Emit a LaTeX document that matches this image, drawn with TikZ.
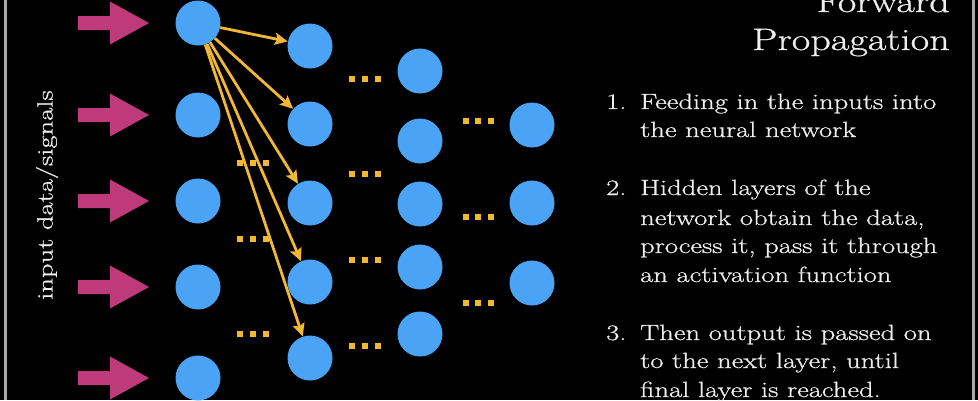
\documentclass[tikz,border=0pt]{standalone}
\usepackage{fontspec}
\setmainfont{Latin Modern Roman}[FakeStretch=1.3,FakeBold=0.8]
\usetikzlibrary{arrows.meta}
\definecolor{nblue}{RGB}{74,163,245}
\definecolor{npink}{RGB}{190,58,122}
\definecolor{nyellow}{RGB}{242,184,52}
\definecolor{ntext}{RGB}{238,238,238}
\definecolor{nframe}{RGB}{170,170,170}
\begin{document}
\begin{tikzpicture}[x=1pt,y=-1pt,
  neuron/.style={circle,fill=nblue,minimum size=45pt,inner sep=0pt},
  sigarrow/.style={fill=npink},
  flow/.style={draw=nyellow,line width=2.8pt,-{Stealth[length=13pt,width=12pt,inset=2.5pt]}},
  dotsq/.style={fill=nyellow},
  listtext/.style={text=ntext,anchor=base west,inner sep=0pt,font=\fontsize{22}{24}\selectfont},
  titletext/.style={text=ntext,anchor=base east,inner sep=0pt,font=\fontsize{31}{34}\selectfont}]
\fill[black] (0,0) rectangle (978,400);
\useasboundingbox (0,0) rectangle (978,400);
% frame lines
\fill[nframe] (4,0) rectangle (7,400);
\fill[nframe] (972,0) rectangle (975,400);
% input arrows and first layer
\foreach \i/\y in {1/23,2/115,3/201,4/287,5/378}{
  \fill[sigarrow] (78,\y-7) -- (110,\y-7) -- (110,\y-21.5) -- (149,\y) -- (110,\y+21.5) -- (110,\y+7) -- (78,\y+7) -- cycle;
  \node[neuron] (n1\i) at (198,\y) {};
}
\foreach \i/\y in {1/46,2/124,3/203,4/282,5/358}{
  \node[neuron] (n2\i) at (310,\y) {};
}
\foreach \i/\y in {1/71,2/141,3/204,4/267,5/334}{
  \node[neuron] (n3\i) at (420,\y) {};
}
\foreach \i/\y in {1/125,2/203,3/283}{
  \node[neuron] (n4\i) at (532,\y) {};
}
% connections
\foreach \k in {1,...,5}{
  \draw[flow] (n11) -- (n2\k);
}
% dots
\foreach \y in {163,239,334}{
  \foreach \x in {240,253,266}{\fill[dotsq] (\x-3,\y-3) rectangle (\x+3,\y+3);}
}
\foreach \y in {79,174,260,346}{
  \foreach \x in {352,365,378}{\fill[dotsq] (\x-3,\y-3) rectangle (\x+3,\y+3);}
}
\foreach \y in {121,217,303}{
  \foreach \x in {466,478,491}{\fill[dotsq] (\x-3,\y-3) rectangle (\x+3,\y+3);}
}
% side label
\node[text=ntext,rotate=90,inner sep=0pt,font=\fontsize{22}{24}\selectfont] (lbl) at (47,195) {input data/signals};
% title
\node[titletext] (t1) at (950,12) {Forward};
\node[titletext] (t2) at (950,50) {Propagation};
% list
\node[listtext] (m1) at (606,109) {1.};
\node[listtext] (a1) at (640,109) {Feeding in the inputs into};
\node[listtext] (a2) at (640,137) {the neural network};
\node[listtext] (m2) at (606,195) {2.};
\node[listtext] (b1) at (640,195) {Hidden layers of the};
\node[listtext] (b2) at (640,225) {network obtain the data,};
\node[listtext] (b3) at (640,253) {process it, pass it through};
\node[listtext] (b4) at (640,282) {an activation function};
\node[listtext] (m3) at (606,340) {3.};
\node[listtext] (c1) at (640,340) {Then output is passed on};
\node[listtext] (c2) at (640,368) {to the next layer, until};
\node[listtext] (c3) at (640,397) {final layer is reached.};
\end{tikzpicture}
\end{document}
